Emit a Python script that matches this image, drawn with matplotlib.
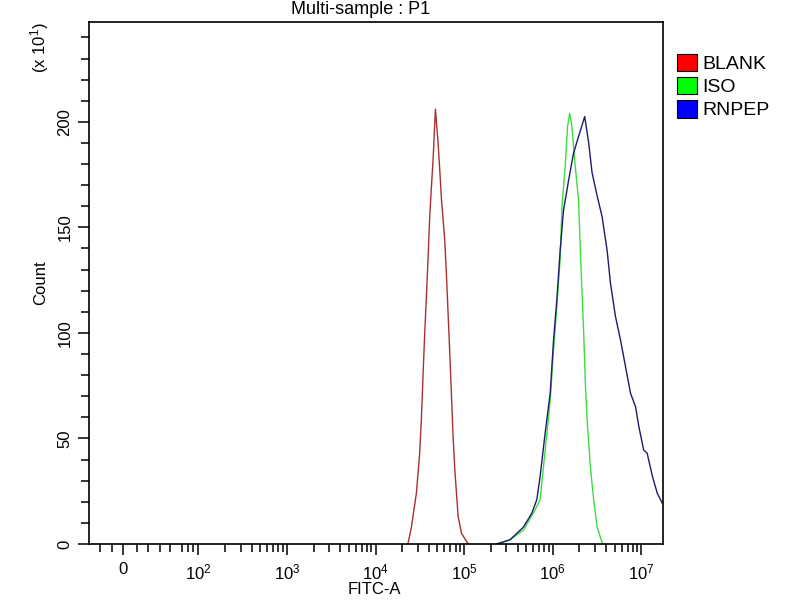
import matplotlib
matplotlib.use('Agg')
import matplotlib.pyplot as plt
from matplotlib.patches import Patch

plt.rcParams['font.family'] = ['Liberation Sans', 'DejaVu Sans']
plt.rcParams['mathtext.fontset'] = 'custom'
plt.rcParams['mathtext.rm'] = 'Liberation Sans'
plt.rcParams['mathtext.it'] = 'Liberation Sans'

# FITC-A values and counts (x10^1)
blank_x = [2.32e4, 2.54e4, 2.89e4, 3.15e4, 3.29e4, 3.43e4, 3.59e4, 3.75e4, 3.91e4, 4.09e4,
           4.27e4, 4.46e4, 4.74e4, 5.08e4, 5.31e4, 5.55e4, 6.04e4, 6.32e4, 6.59e4, 6.89e4,
           7.2e4, 7.5e4, 7.85e4, 8.55e4, 9.35e4, 1.11e5]
blank_y = [0, 8, 24, 43, 59, 79, 100, 117, 135, 155,
           169, 182, 206, 190, 177, 163, 144, 127, 109, 90,
           70, 51, 35, 13, 5, 0]

iso_x = [2.33e5, 3.29e5, 4.66e5, 6.04e5, 7.19e5, 8.2e5, 9.35e5, 1.02e6, 1.11e6, 1.21e6,
         1.27e6, 1.38e6, 1.47e6, 1.55e6, 1.64e6, 1.79e6, 1.95e6, 2.08e6, 2.23e6, 2.33e6,
         2.43e6, 2.65e6, 2.89e6, 3.16e6, 3.6e6, 3.75e6]
iso_y = [0, 2, 6.6, 14.6, 21, 44.5, 68, 92, 112.5, 135,
         160, 179, 198, 204, 198, 179, 163, 131, 100, 76,
         60, 36.6, 21, 8.2, 0.5, 0]

rnpep_x = [2.33e5, 2.54e5, 3.29e5, 4.66e5, 5.8e5, 6.6e5, 7.19e5, 8.2e5, 9.35e5, 1.02e6,
           1.11e6, 1.21e6, 1.32e6, 1.51e6, 1.71e6, 1.95e6, 2.29e6, 2.54e6, 2.77e6, 3.16e6,
           3.6e6, 4.1e6, 4.47e6, 5.09e6, 5.8e6, 6.61e6, 7.53e6, 8.58e6, 9.35e6, 1.06e7,
           1.16e7, 1.33e7, 1.51e7, 1.72e7]
rnpep_y = [0, 0.5, 2, 8, 14.6, 21, 32, 52.6, 71.6, 96.7,
           115.7, 139, 158, 172.5, 185, 193, 202.5, 190, 176, 165,
           155, 139, 123.6, 107.8, 96.7, 84, 71.4, 65, 55.6, 44.5,
           43, 32, 24, 19.3]

names = ['BLANK', 'ISO', 'RNPEP']
colors = ['#a83030', '#3ddc3d', '#1c1c6e']
swatch = ['#ff0000', '#00ff00', '#0000ff']

fig = plt.figure(figsize=(8, 6), dpi=100)
ax = fig.add_axes([89/800, 1-544/600, (663-89)/800, (544-22)/600])

ax.set_xscale('symlog', linthresh=100, linscale=0.761, subs=[])
ax.plot(blank_x, blank_y, color=colors[0], lw=1.0)
ax.plot(iso_x, iso_y, color=colors[1], lw=1.0)
ax.plot(rnpep_x, rnpep_y, color=colors[2], lw=1.0)

ax.set_xlim(-45.7, 1.75e7)
ax.set_ylim(0, 247.3)

# x ticks
ax.set_xticks([0, 1e2, 1e3, 1e4, 1e5, 1e6, 1e7])
ax.set_xticklabels(['0', '$10^2$', '$10^3$', '$10^4$', '$10^5$', '$10^6$', '$10^7$'])
minor = [-31, -15.6, 17.8, 33, 49, 62, 78, 87, 93]
for d in [1e2, 1e3, 1e4, 1e5, 1e6]:
    minor += [k * d for k in range(2, 10)]
ax.set_xticks(minor, minor=True)

# y ticks
ax.set_yticks([0, 50, 100, 150, 200])
ax.set_yticks(list(range(10, 250, 10)), minor=True)
for lab in ax.get_yticklabels():
    lab.set_rotation(90)
    lab.set_va('center')

ax.tick_params(axis='both', which='major', direction='out', length=8, width=1.1,
               labelsize=12, color='black')
ax.tick_params(axis='both', which='minor', direction='out', length=5.5, width=1.1)
ax.tick_params(axis='y', pad=4)
ax.tick_params(axis='x', pad=5)

for s in ax.spines.values():
    s.set_linewidth(1.2)
    s.set_color('black')

ax.set_xlabel('FITC-A', fontsize=12)
ax.xaxis.set_label_coords(0.498, -0.072)
ax.set_ylabel('Count', fontsize=12)
ax.yaxis.set_label_coords(-0.071, 0.5)

fig.text(361/800, 1-9/600, 'Multi-sample : P1', ha='center', va='center', fontsize=13)
fig.text(40/800, 1-48/600, '(x 10$^1$)', rotation=90, ha='center', va='center', fontsize=12)

handles = [Patch(facecolor=c, edgecolor='black', lw=0.8) for c in swatch]
fig.legend(handles, names, loc='upper left', bbox_to_anchor=(663/800, 1-40/600),
           frameon=False, fontsize=14, handlelength=1.03, handleheight=1.0,
           handletextpad=0.3, labelspacing=0.2, borderpad=0.2)

fig.savefig('out.png', dpi=100)
